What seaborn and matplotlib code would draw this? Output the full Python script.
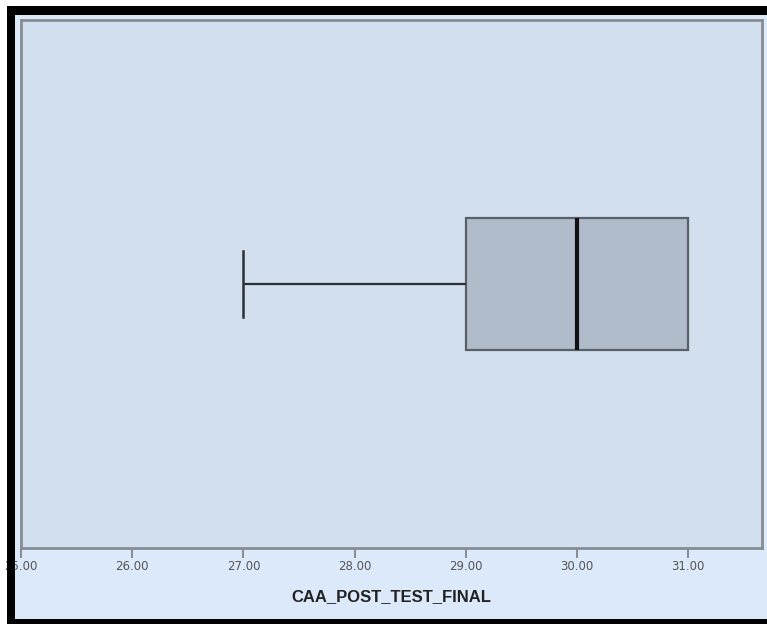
import matplotlib
matplotlib.use("Agg")
import matplotlib.pyplot as plt
from matplotlib.patches import Rectangle
import seaborn as sns
import pandas as pd
import numpy as np

# Final post-test scores (CAA)
scores = [27, 28, 29, 29, 30, 30, 30, 31, 31, 31, 31]
tick_values = [25, 26, 27, 28, 29, 30, 31]
tick_labels = ["25.00", "26.00", "27.00", "28.00", "29.00", "30.00", "31.00"]
variable_name = "CAA_POST_TEST_FINAL"

W, H = 767, 624
DPI = 100
fig = plt.figure(figsize=(W / DPI, H / DPI), dpi=DPI, facecolor="white")


def px_rect(x0, y0, x1, y1, color, z):
    """Rectangle given in pixel coordinates measured from the top-left."""
    r = Rectangle((x0 / W, 1 - y1 / H), (x1 - x0) / W, (y1 - y0) / H,
                  transform=fig.transFigure, facecolor=color,
                  edgecolor="none", zorder=z)
    fig.add_artist(r)


# Chart background panel and its black frame
px_rect(15, 15, W, 619, "#dce9fa", -5)
px_rect(7, 6, 15, H, "black", 20)
px_rect(7, 6, W, 15, "black", 20)
px_rect(7, 619, W, H, "black", 20)

ax = fig.add_axes([21 / W, 1 - 548 / H, (762 - 21) / W, (548 - 20) / H])
ax.set_facecolor("#d2dfef")

df = pd.DataFrame({variable_name: scores})
sns.boxplot(data=df, x=variable_name, ax=ax, width=0.25, color="#b1bccb",
            saturation=1, linecolor="#5b6068", linewidth=1.6,
            whiskerprops=dict(color="#2e3033", linewidth=1.6),
            capprops=dict(color="#2e3033", linewidth=1.8),
            medianprops=dict(color="#111111", linewidth=3))

# A whisker of zero length gets no cap
q1, q3 = np.percentile(scores, [25, 75])
for line in ax.lines:
    xd = np.asarray(line.get_xdata(), dtype=float)
    yd = np.asarray(line.get_ydata(), dtype=float)
    if len(xd) == 2 and xd[0] == xd[1] and xd[0] in (q1, q3) \
            and abs(yd[1] - yd[0]) < 0.2:
        line.set_visible(False)

ax.set_xlim(25, 25 + (762 - 21) / 111.2)
ax.set_ylim(0.5, -0.5)
ax.set_xticks(tick_values)
ax.set_xticklabels(tick_labels, fontsize=8.5,
                   family=["Liberation Sans Narrow", "DejaVu Sans"],
                   color="#555555")
ax.set_yticks([])
ax.set_ylabel("")
ax.tick_params(axis="x", length=7, width=1.5, color="#8a8e94", pad=2)
ax.set_xlabel(variable_name, fontsize=12, fontweight="bold",
              family=["Liberation Sans", "DejaVu Sans"], color="#222222",
              labelpad=11)
for s in ax.spines.values():
    s.set_color("#878c93")
    s.set_linewidth(2)

fig.savefig("out.png", dpi=DPI, facecolor="white")
